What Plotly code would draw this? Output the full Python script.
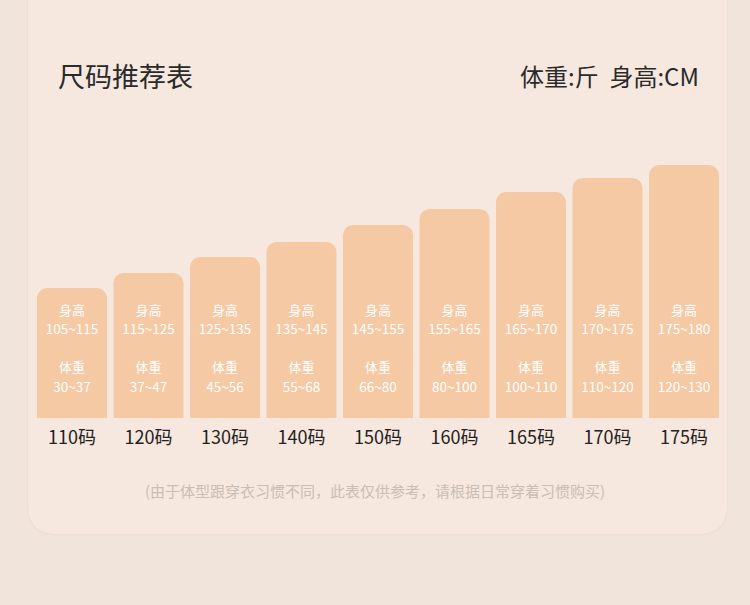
import plotly.graph_objects as go

# size chart data
sizes = ["110码", "120码", "130码", "140码", "150码", "160码", "165码", "170码", "175码"]
bar_heights = [130, 145, 161, 176, 193, 209, 226, 240, 253]  # visual bar height (px units)
height_ranges = ["105~115", "115~125", "125~135", "135~145", "145~155",
                 "155~165", "165~170", "170~175", "175~180"]
weight_ranges = ["30~37", "37~47", "45~56", "55~68", "66~80",
                 "80~100", "100~110", "110~120", "120~130"]

W, H = 750, 605
base_px = 418  # pixel row of the bar base
font = "Noto Sans CJK SC"
bar_color = "#F5C9A3"

fig = go.Figure()

fig.add_trace(go.Bar(
    x=sizes, y=bar_heights,
    marker=dict(color=bar_color, cornerradius=10, line=dict(width=0)),
    hoverinfo="skip",
))

def text_row(labels, y, size, color):
    fig.add_trace(go.Scatter(
        x=sizes, y=[y] * len(sizes), mode="text", text=labels,
        textfont=dict(family=font, size=size, color=color),
        textposition="middle center", hoverinfo="skip", cliponaxis=False,
    ))

text_row(["身高"] * len(sizes), 106, 13, "white")
text_row(height_ranges, 87, 13.5, "white")
text_row(["体重"] * len(sizes), 49, 13, "white")
text_row(weight_ranges, 29, 13.5, "white")
text_row(sizes, -21, 18, "#222222")

# card behind the chart (rounded bottom corners)
def px_x(v):
    return v / W

def px_y(v):
    return (H - v) / H

def card_path(x0, x1, top, bottom, r):
    return (f"M {px_x(x0)},{px_y(top)} L {px_x(x1)},{px_y(top)} "
            f"L {px_x(x1)},{px_y(bottom - r)} "
            f"Q {px_x(x1)},{px_y(bottom)} {px_x(x1 - r)},{px_y(bottom)} "
            f"L {px_x(x0 + r)},{px_y(bottom)} "
            f"Q {px_x(x0)},{px_y(bottom)} {px_x(x0)},{px_y(bottom - r)} Z")

fig.add_shape(type="path", xref="paper", yref="paper", layer="below",
              path=card_path(27, 728, -40, 536, 30),
              fillcolor="#EEE0D6", line=dict(width=0))
fig.add_shape(type="path", xref="paper", yref="paper", layer="below",
              path=card_path(28, 727, -40, 534, 30),
              fillcolor="#F6E8DF", line=dict(width=0))

fig.add_annotation(text="尺码推荐表", xref="paper", yref="paper",
                   x=px_x(56), y=px_y(75), xanchor="left", yanchor="middle",
                   showarrow=False, font=dict(family=font, size=27, color="#2A2A2A"))
fig.add_annotation(text="体重:斤&nbsp;&nbsp;身高:CM", xref="paper", yref="paper",
                   x=px_x(701), y=px_y(75), xanchor="right", yanchor="middle",
                   showarrow=False, font=dict(family=font, size=24, color="#2A2A2A"))
fig.add_annotation(text="(由于体型跟穿衣习惯不同，此表仅供参考，请根据日常穿着习惯购买)",
                   xref="paper", yref="paper", x=0.5, y=px_y(490),
                   xanchor="center", yanchor="middle", showarrow=False,
                   font=dict(family=font, size=15, color="#C9BDB5"))

fig.update_layout(
    width=W, height=H,
    margin=dict(l=0, r=0, t=0, b=0),
    paper_bgcolor="#F1E4DB",
    plot_bgcolor="rgba(0,0,0,0)",
    showlegend=False,
    bargap=0.085,
    xaxis=dict(visible=False, range=[-0.5, 8.5],
               domain=[33.75 / W, 722.25 / W], fixedrange=True),
    yaxis=dict(visible=False, range=[base_px - H, base_px], fixedrange=True),
)

# drop the default page margin so the figure fills the window
fig.write_html("out.html", config={"displayModeBar": False},
               post_script="document.body.style.margin='0';"
                           "document.body.style.background='#F1E4DB';")
